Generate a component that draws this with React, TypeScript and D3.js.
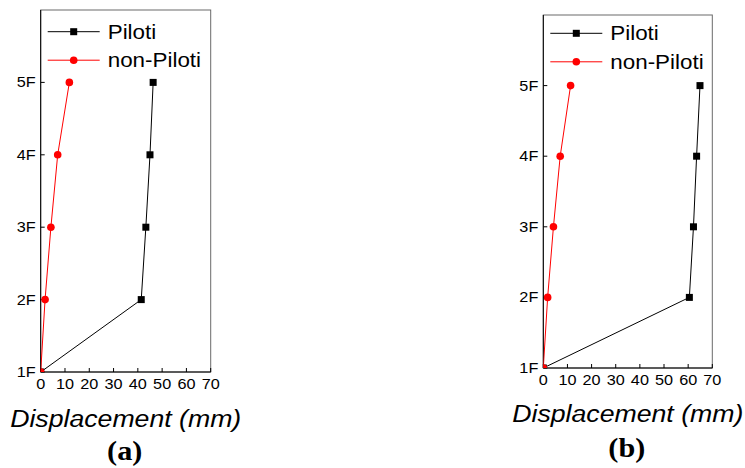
import * as d3 from "d3";

// floors on the y axis, displacement (mm) on the x axis
const floors = ["1F", "2F", "3F", "4F", "5F"];
const xTicks = [0, 10, 20, 30, 40, 50, 60, 70];

const pilotiA = [0, 41.4, 43.3, 45.0, 46.3];
const nonPilotiA = [0, 1.8, 4.2, 7.0, 11.8];
const pilotiB = [0, 60.5, 62.2, 63.5, 64.9];
const nonPilotiB = [0, 1.8, 4.2, 7.0, 11.3];

const SANS = "Liberation Sans, Arial, sans-serif";
const SX = 1.16; // the source figure's text is stretched sideways

type Box = { left: number; right: number; top: number; bottom: number };

const Txt = (p: { x: number; y: number; size: number; anchor?: string; dy?: string; italic?: boolean; bold?: boolean; serif?: boolean; sx?: number; children: any }) => (
  <text
    transform={`translate(${p.x},${p.y}) scale(${p.sx ?? SX},1)`}
    dy={p.dy}
    textAnchor={p.anchor ?? "start"}
    fontSize={p.size}
    fontStyle={p.italic ? "italic" : "normal"}
    fontWeight={p.bold ? "bold" : "normal"}
    fontFamily={p.serif ? "Liberation Serif, Times New Roman, serif" : SANS}
  >
    {p.children}
  </text>
);

const Panel = (props: { id: string; box: Box; piloti: number[]; nonPiloti: number[]; tag: string; legendY: number; labelY: number; tagY: number }) => {
  const { box } = props;
  const x = d3.scaleLinear().domain([0, 70]).range([box.left, box.right]);
  const y = d3.scaleLinear().domain([1, 6]).range([box.bottom, box.top]);
  const line = d3
    .line<number>()
    .x((d) => x(d))
    .y((d, i) => y(i + 1));
  const lx = box.left + 7;
  const cx = (box.left + box.right) / 2;

  return (
    <g>
      <defs>
        <clipPath id={"clip" + props.id}>
          <rect x={box.left} y={box.top} width={box.right - box.left} height={box.bottom - box.top} />
        </clipPath>
      </defs>
      <rect x={box.left} y={box.top} width={box.right - box.left} height={box.bottom - box.top} fill="none" stroke="#6a6a6a" strokeWidth={1} />
      <line x1={box.left} x2={box.left} y1={box.top} y2={box.bottom} stroke="#000" />
      <line x1={box.left} x2={box.right} y1={box.bottom} y2={box.bottom} stroke="#000" />

      {floors.map((f, i) => (
        <g key={f}>
          <line x1={box.left} x2={box.left + 4} y1={y(i + 1)} y2={y(i + 1)} stroke="#000" />
          <Txt x={box.left - 5} y={y(i + 1)} dy="0.35em" anchor="end" size={14}>
            {f}
          </Txt>
        </g>
      ))}
      {xTicks.map((t) => (
        <g key={t}>
          <line x1={x(t)} x2={x(t)} y1={box.bottom} y2={box.bottom - 4} stroke="#000" />
          <Txt x={x(t)} y={box.bottom + 17} anchor="middle" size={14}>
            {t}
          </Txt>
        </g>
      ))}

      <g clipPath={`url(#clip${props.id})`}>
        <path d={line(props.piloti) ?? ""} fill="none" stroke="#000" strokeWidth={1} />
        {props.piloti.map((d, i) => (
          <rect key={i} x={x(d) - 3.5} y={y(i + 1) - 3.5} width={7} height={7} fill="#000" />
        ))}
        <path d={line(props.nonPiloti) ?? ""} fill="none" stroke="#ff0000" strokeWidth={1} />
        {props.nonPiloti.map((d, i) => (
          <circle key={i} cx={x(d)} cy={y(i + 1)} r={3.8} fill="#ff0000" />
        ))}
      </g>

      {/* legend */}
      <line x1={lx} x2={lx + 52} y1={props.legendY} y2={props.legendY} stroke="#000" />
      <rect x={lx + 26 - 3.5} y={props.legendY - 3.5} width={7} height={7} fill="#000" />
      <Txt x={lx + 60} y={props.legendY} dy="0.35em" size={20} sx={1.12}>
        Piloti
      </Txt>
      <line x1={lx} x2={lx + 52} y1={props.legendY + 28.5} y2={props.legendY + 28.5} stroke="#ff0000" />
      <circle cx={lx + 26} cy={props.legendY + 28.5} r={3.8} fill="#ff0000" />
      <Txt x={lx + 60} y={props.legendY + 28.5} dy="0.35em" size={20} sx={1.12}>
        non-Piloti
      </Txt>

      <Txt x={cx} y={props.labelY} anchor="middle" size={23} italic>
        Displacement (mm)
      </Txt>
      <Txt x={cx - 1} y={props.tagY} anchor="middle" size={27} bold serif sx={1.12}>
        {props.tag}
      </Txt>
    </g>
  );
};

export default function App() {
  return (
    <svg width={745} height={468} style={{ position: "absolute", left: 0, top: 0, background: "#fff" }}>
      <Panel id="a" box={{ left: 40.7, right: 210.7, top: 10, bottom: 372 }} piloti={pilotiA} nonPiloti={nonPilotiA} tag="(a)" legendY={31.7} labelY={426.5} tagY={459.5} />
      <Panel id="b" box={{ left: 543.3, right: 712.3, top: 15, bottom: 368 }} piloti={pilotiB} nonPiloti={nonPilotiB} tag="(b)" legendY={33.3} labelY={422} tagY={457} />
    </svg>
  );
}
